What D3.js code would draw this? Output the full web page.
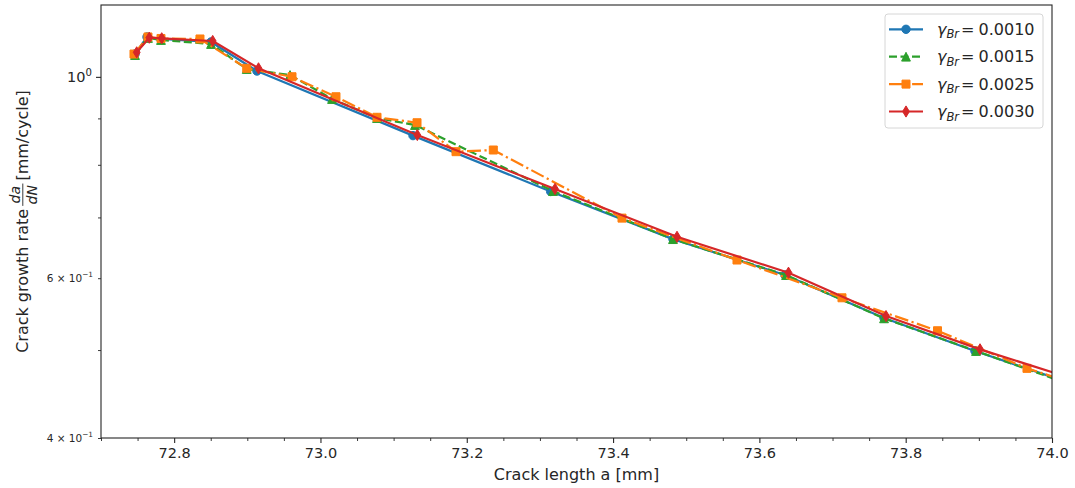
<!DOCTYPE html>
<html><head><meta charset="utf-8">
<script src="https://cdn.jsdelivr.net/npm/d3@7"></script>
<style>
body{margin:0;background:#fff}
text{font-family:"DejaVu Sans",sans-serif;fill:#262626}
</style>
</head><body>
<svg id="chart" width="1075" height="488"></svg>
<script>
// ---- data ----
const gammaLabels = ["0.0010", "0.0015", "0.0025", "0.0030"];
const seriesColors = ["#1f77b4", "#2ca02c", "#ff7f0e", "#d62728"];

const a_0010 = [72.7465, 72.7629, 72.7820, 72.8504, 72.9132, 73.1265, 73.3147, 73.4819, 73.6350, 73.7704, 73.8947, 74.10];
const r_0010 = [1.0596, 1.1065, 1.1009, 1.0926, 1.0149, 0.8615, 0.7476, 0.6625, 0.6048, 0.5423, 0.4988, 0.4386];

const a_0015 = [72.7465, 72.7642, 72.7820, 72.8504, 72.8992, 72.9584, 73.0158, 73.0773, 73.1292, 73.3179, 73.4819, 73.6364, 73.7704, 73.8961, 74.10];
const r_0015 = [1.0569, 1.1037, 1.0981, 1.0870, 1.0201, 1.0047, 0.9454, 0.9008, 0.8850, 0.7485, 0.6625, 0.6048, 0.5419, 0.4988, 0.4361];

const a_0025 = [72.7451, 72.7642, 72.7820, 72.8353, 72.8992, 72.9611, 73.0212, 73.0773, 73.1320, 73.1853, 73.2363, 73.4122, 73.5694, 73.7129, 73.8435, 73.9658, 74.10];
const r_0025 = [1.0596, 1.1065, 1.1023, 1.1009, 1.0219, 1.0003, 0.9508, 0.9025, 0.8901, 0.8271, 0.8306, 0.6988, 0.6283, 0.5709, 0.5251, 0.4773, 0.4410];

const a_0030 = [72.7488, 72.7660, 72.7830, 72.8527, 72.9153, 73.1324, 73.3206, 73.4874, 73.6398, 73.7731, 73.9016, 74.10];
const r_0030 = [1.0642, 1.1045, 1.1028, 1.0953, 1.0219, 0.8628, 0.7524, 0.6664, 0.6084, 0.5450, 0.5009, 0.4458];

const xMajorTicks = [72.8, 73.0, 73.2, 73.4, 73.6, 73.8, 74.0];
const xMinorTicks = [72.70, 72.75, 72.85, 72.90, 72.95, 73.05, 73.10, 73.15, 73.25, 73.30, 73.35, 73.45, 73.50, 73.55, 73.65, 73.70, 73.75, 73.85, 73.90, 73.95];
const yMajorTicks = [1.0];
const yMajorLabels = [["10", "0"]];
const yMinorTicks = [0.4, 0.5, 0.6, 0.7, 0.8, 0.9];
const yMinorLabelTicks = [0.4, 0.6];
const yMinorLabels = [["4 \u00d7 10", "\u22121"], ["6 \u00d7 10", "\u22121"]];

const xLabel = "Crack length a [mm]";
const yLabelPre = "Crack growth rate ";
const yLabelNum = "da", yLabelDen = "dN";
const yLabelPost = " [mm/cycle]";

// ---- layout ----
const svg = d3.select("#chart");
const L = 101, R = 1052, T = 5, B = 438;
const x = d3.scaleLinear().domain([72.7, 74.0]).range([L, R]);
const y = d3.scaleLog().domain([0.4, 1.2]).range([B, T]);

svg.append("rect").attr("width", 1075).attr("height", 488).attr("fill", "#fff");
svg.append("defs").append("clipPath").attr("id", "clip")
  .append("rect").attr("x", L).attr("y", T).attr("width", R - L).attr("height", B - T);

// x axis
const gx = svg.append("g").attr("transform", `translate(0,${B})`);
gx.call(d3.axisBottom(x).tickValues(xMajorTicks).tickSize(5).tickPadding(5).tickFormat(d3.format(".1f")))
  .call(g => g.select(".domain").remove())
  .call(g => g.selectAll("line").attr("stroke", "#262626").attr("stroke-width", 1.1))
  .call(g => g.selectAll("text").attr("font-size", 14.5).attr("font-family", "DejaVu Sans").attr("fill", "#262626"));
const gxm = svg.append("g").attr("transform", `translate(0,${B})`);
gxm.call(d3.axisBottom(x).tickValues(xMinorTicks).tickSize(3).tickFormat(""))
  .call(g => g.select(".domain").remove())
  .call(g => g.selectAll("line").attr("stroke", "#262626").attr("stroke-width", 0.9));

// y axis ticks
const gy = svg.append("g").attr("transform", `translate(${L},0)`);
gy.call(d3.axisLeft(y).tickValues(yMajorTicks).tickSize(5).tickFormat(""))
  .call(g => g.select(".domain").remove())
  .call(g => g.selectAll("line").attr("stroke", "#262626").attr("stroke-width", 1.1));
const gym = svg.append("g").attr("transform", `translate(${L},0)`);
gym.call(d3.axisLeft(y).tickValues(yMinorTicks).tickSize(3).tickFormat(""))
  .call(g => g.select(".domain").remove())
  .call(g => g.selectAll("line").attr("stroke", "#262626").attr("stroke-width", 0.9));

// y labels with superscripts
function supLabel(v, parts, fs, xr) {
  const t = svg.append("text").attr("x", xr).attr("y", y(v)).attr("dy", "0.35em")
    .attr("text-anchor", "end").attr("font-size", fs);
  t.append("tspan").text(parts[0]);
  t.append("tspan").attr("font-size", fs * 0.7).attr("dy", -fs * 0.42).text(parts[1]);
}
yMajorTicks.forEach((v, i) => supLabel(v, yMajorLabels[i], 14.5, 92));
yMinorLabelTicks.forEach((v, i) => supLabel(v, yMinorLabels[i], 10.5, 93));

// axis labels
svg.append("text").attr("x", (L + R) / 2).attr("y", 480).attr("text-anchor", "middle")
  .attr("font-size", 16).text(xLabel);

const yl = svg.append("g").attr("transform", `translate(28,${(T + B) / 2}) rotate(-90)`);
const t1 = yl.append("text").attr("font-size", 16).attr("x", 0).text(yLabelPre);
const w1 = t1.node().getComputedTextLength();
const num = yl.append("text").attr("font-size", 14).attr("font-style", "italic").attr("text-anchor", "middle").text(yLabelNum);
const den = yl.append("text").attr("font-size", 14).attr("font-style", "italic").attr("text-anchor", "middle").text(yLabelDen);
const wf = Math.max(num.node().getComputedTextLength(), den.node().getComputedTextLength()) + 3;
const gap = 3;
const t3 = yl.append("text").attr("font-size", 16).text(yLabelPost);
const w3 = t3.node().getComputedTextLength();
const total = w1 + gap + wf + gap + w3;
const s0 = -total / 2;
t1.attr("x", s0);
const fc = s0 + w1 + gap + wf / 2;
num.attr("x", fc).attr("y", -8);
den.attr("x", fc).attr("y", 9);
yl.append("line").attr("x1", fc - wf / 2).attr("x2", fc + wf / 2).attr("y1", -5.2).attr("y2", -5.2)
  .attr("stroke", "#262626").attr("stroke-width", 0.9);
t3.attr("x", s0 + w1 + gap + wf + gap);

// ---- series ----
const series = [
  {a: a_0010, r: r_0010, dash: null, marker: "circle"},
  {a: a_0015, r: r_0015, dash: "8,3.5", marker: "triangle"},
  {a: a_0025, r: r_0025, dash: "13.9,3.5,2.2,3.5", marker: "square"},
  {a: a_0030, r: r_0030, dash: null, marker: "diamond"}
];

function markerPath(kind) {
  if (kind === "circle") return d3.symbol(d3.symbolCircle, Math.PI * 4.2 * 4.2)();
  if (kind === "square") return "M-4,-4L4,-4L4,4L-4,4Z";
  if (kind === "triangle") return "M0,-4.4L4.4,4.4L-4.4,4.4Z";
  return "M0,-5.6L3.4,0L0,5.6L-3.4,0Z";
}

const plot = svg.append("g").attr("clip-path", "url(#clip)");
const line = d3.line().x(d => x(d[0])).y(d => y(d[1]));
series.forEach((s, i) => {
  const pts = s.a.map((v, k) => [v, s.r[k]]);
  const g = plot.append("g");
  g.append("path").attr("d", line(pts)).attr("fill", "none").attr("stroke", seriesColors[i])
    .attr("stroke-width", 2.2).attr("stroke-dasharray", s.dash).attr("stroke-linejoin", "round");
  g.selectAll("path.m").data(pts).enter().append("path").attr("class", "m")
    .attr("d", markerPath(s.marker))
    .attr("transform", d => `translate(${x(d[0])},${y(d[1])})`)
    .attr("fill", seriesColors[i]).attr("stroke", seriesColors[i]).attr("stroke-width", 1);
});

// frame
svg.append("rect").attr("x", L).attr("y", T).attr("width", R - L).attr("height", B - T)
  .attr("fill", "none").attr("stroke", "#262626").attr("stroke-width", 1.1);

// ---- legend ----
const lg = svg.append("g");
lg.append("rect").attr("x", 885).attr("y", 14).attr("width", 158).attr("height", 114).attr("rx", 3)
  .attr("fill", "#fff").attr("fill-opacity", 0.8).attr("stroke", "#d6d6d6").attr("stroke-width", 1);
series.forEach((s, i) => {
  const ry = 29.3 + i * 27.4;
  lg.append("line").attr("x1", 889).attr("x2", 923).attr("y1", ry).attr("y2", ry)
    .attr("stroke", seriesColors[i]).attr("stroke-width", 2.2).attr("stroke-dasharray", s.dash);
  lg.append("path").attr("d", markerPath(s.marker)).attr("transform", `translate(906,${ry})`)
    .attr("fill", seriesColors[i]).attr("stroke", seriesColors[i]).attr("stroke-width", 1);
  const t = lg.append("text").attr("x", 937).attr("y", ry + 5.5).attr("font-size", 16);
  t.append("tspan").attr("font-style", "italic").text("\u03b3");
  t.append("tspan").attr("font-style", "italic").attr("font-size", 11.5).attr("dy", 3.5).text("Br");
  t.append("tspan").attr("dy", -3.5).attr("dx", 2).text("=");
  t.append("tspan").attr("dx", 4).text(gammaLabels[i]);
});
</script>
</body></html>
